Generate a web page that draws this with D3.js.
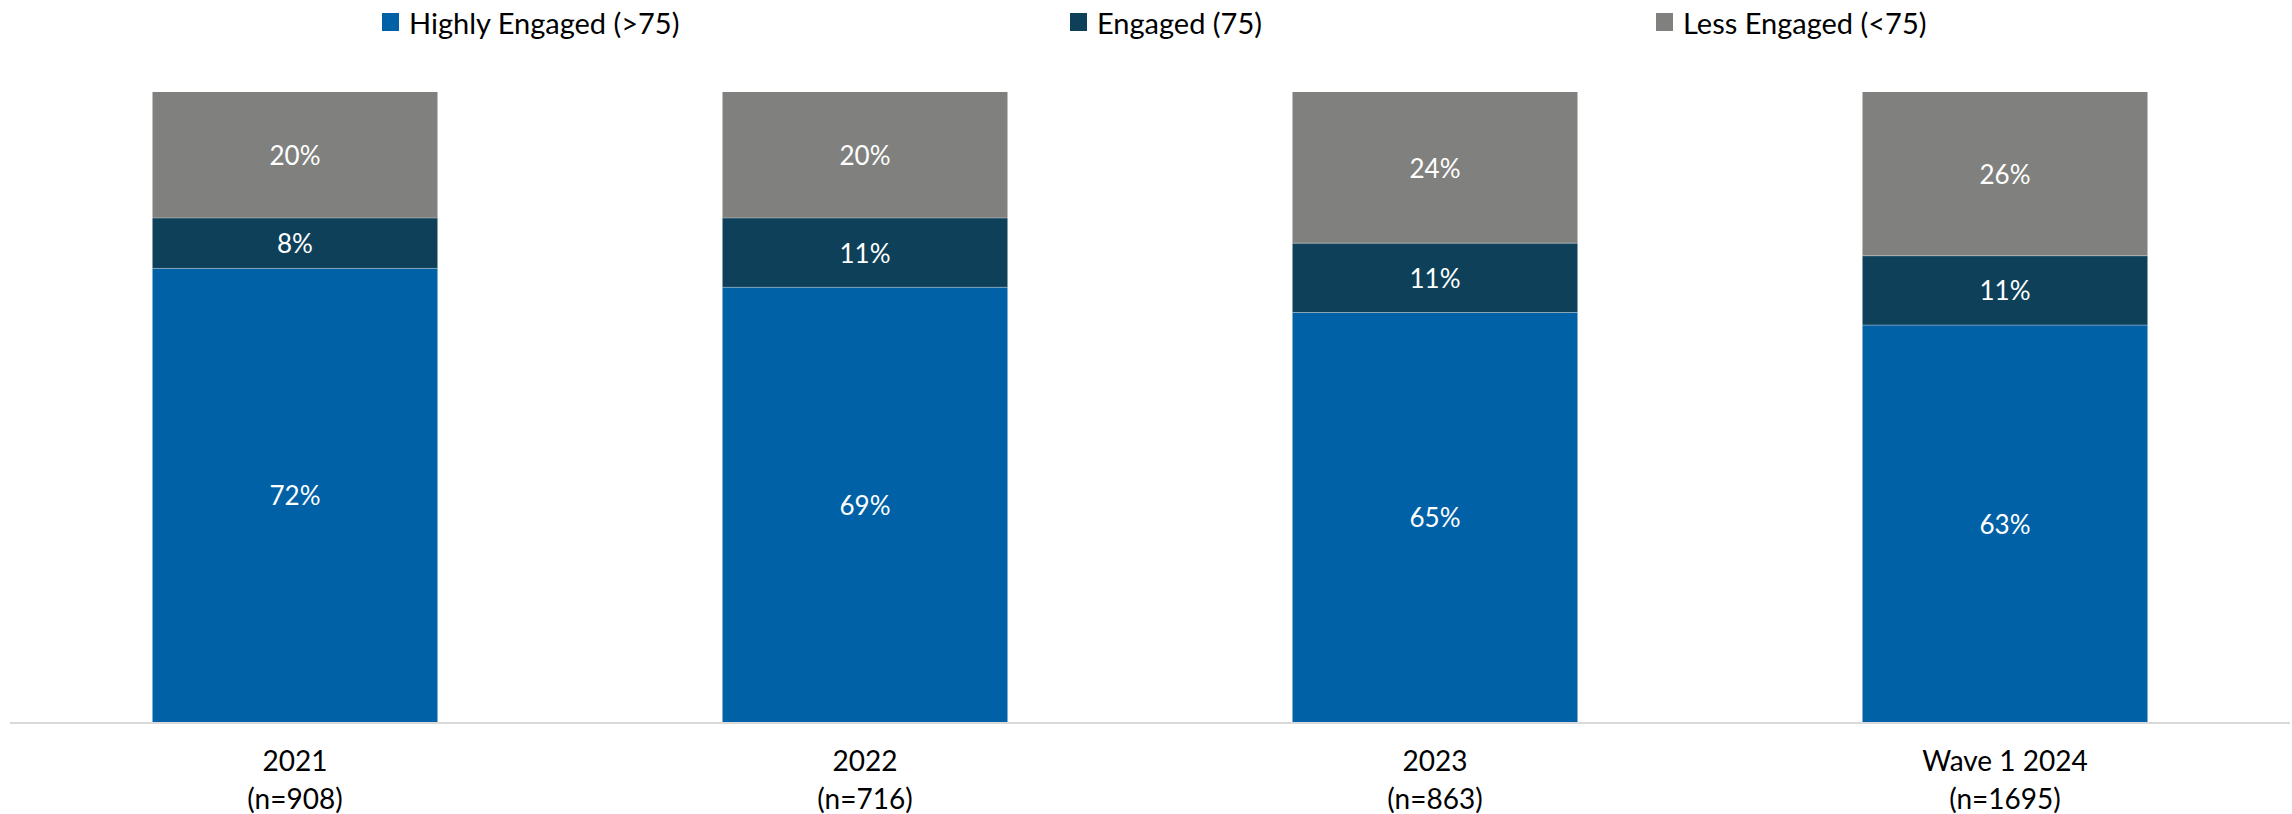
<!DOCTYPE html>
<html>
<head>
<meta charset="utf-8">
<title>Engagement by year</title>
<script src="https://d3js.org/d3.v7.min.js"></script>
<style>
  body { margin: 0; background: #fff; }
  svg { display: block; font-family: Lato, "Open Sans", sans-serif; }
</style>
</head>
<body>
<script>

  // data
  let years = ["2021", "2022", "2023", "Wave 1 2024"];
  let sample_sizes = ["(n=908)", "(n=716)", "(n=863)", "(n=1695)"];
  let series_names = ["Highly Engaged (>75)", "Engaged (75)", "Less Engaged (<75)"];
  let highly_engaged = [72, 69, 65, 63];
  let engaged = [8, 11, 11, 11];
  let less_engaged = [20, 20, 24, 26];

  let width = 2292;
  let height = 814;
  let colors = ["#0061a7", "#0e4159", "#80817e"];

  let svg = d3.select("body").append("svg")
      .attr("width", width)
      .attr("height", height);

  let x = d3.scaleBand()
      .domain(years)
      .range([10, 2290])
      .paddingInner(0.5)
      .paddingOuter(0.25);

  let y = d3.scaleLinear()
      .domain([0, 100])
      .range([722, 92]);

  // rows for the stack
  let rows = years.map(function(yr, i) {
    return {year: yr, s0: highly_engaged[i], s1: engaged[i], s2: less_engaged[i]};
  });

  let stack = d3.stack().keys(["s0", "s1", "s2"]);
  let layers = stack(rows);

  let groups = svg.append("g")
      .attr("id", "bars")
      .selectAll("g")
      .data(layers)
      .enter()
      .append("g")
      .attr("fill", function(d, i) { return colors[i]; });

  groups.selectAll("rect")
      .data(function(d) { return d; })
      .enter()
      .append("rect")
      .attr("x", function(d) { return x(d.data.year); })
      .attr("width", x.bandwidth())
      .attr("y", function(d) { return y(d[1]); })
      .attr("height", function(d) { return y(d[0]) - y(d[1]); });

  // thin light separators between segments
  groups.filter(function(d, i) { return i > 0; })
      .selectAll("line")
      .data(function(d) { return d; })
      .enter()
      .append("line")
      .attr("x1", function(d) { return x(d.data.year); })
      .attr("x2", function(d) { return x(d.data.year) + x.bandwidth(); })
      .attr("y1", function(d) { return y(d[0]); })
      .attr("y2", function(d) { return y(d[0]); })
      .style("stroke", "#ffffff")
      .style("stroke-opacity", 0.35)
      .style("stroke-width", 1);

  // value labels
  groups.selectAll("text")
      .data(function(d) { return d; })
      .enter()
      .append("text")
      .attr("x", function(d) { return x(d.data.year) + x.bandwidth() / 2; })
      .attr("y", function(d) { return (y(d[0]) + y(d[1])) / 2; })
      .attr("text-anchor", "middle")
      .attr("dominant-baseline", "central")
      .style("fill", "#ffffff")
      .style("font-size", "26px")
      .text(function(d) { return (d[1] - d[0]) + "%"; });

  // baseline
  svg.append("line")
      .attr("x1", 10)
      .attr("x2", 2290)
      .attr("y1", y(0) + 1)
      .attr("y2", y(0) + 1)
      .style("stroke", "#d9d9d9")
      .style("stroke-width", 2);

  // category labels
  let xaxis = svg.append("g").attr("id", "x_labels");
  xaxis.selectAll("text.year")
      .data(years)
      .enter()
      .append("text")
      .attr("class", "year")
      .attr("x", function(d) { return x(d) + x.bandwidth() / 2; })
      .attr("y", 760)
      .attr("text-anchor", "middle")
      .attr("dominant-baseline", "central")
      .style("font-size", "28px")
      .style("fill", "#000")
      .text(function(d) { return d; });

  xaxis.selectAll("text.n")
      .data(sample_sizes)
      .enter()
      .append("text")
      .attr("class", "n")
      .attr("x", function(d, i) { return x(years[i]) + x.bandwidth() / 2; })
      .attr("y", 798)
      .attr("text-anchor", "middle")
      .attr("dominant-baseline", "central")
      .style("font-size", "28px")
      .style("fill", "#000")
      .text(function(d) { return d; });

  // legend
  let legend_x = [382, 1070, 1656];
  let legend = svg.append("g").attr("id", "legend")
      .selectAll("g")
      .data(series_names)
      .enter()
      .append("g")
      .attr("transform", function(d, i) { return "translate(" + legend_x[i] + ",13)"; });

  legend.append("rect")
      .attr("width", 17)
      .attr("height", 18)
      .attr("fill", function(d, i) { return colors[i]; });

  legend.append("text")
      .attr("x", 27)
      .attr("y", 9)
      .attr("dominant-baseline", "central")
      .style("font-size", "29px")
      .style("fill", "#000")
      .text(function(d) { return d; });

</script>
</body>
</html>
